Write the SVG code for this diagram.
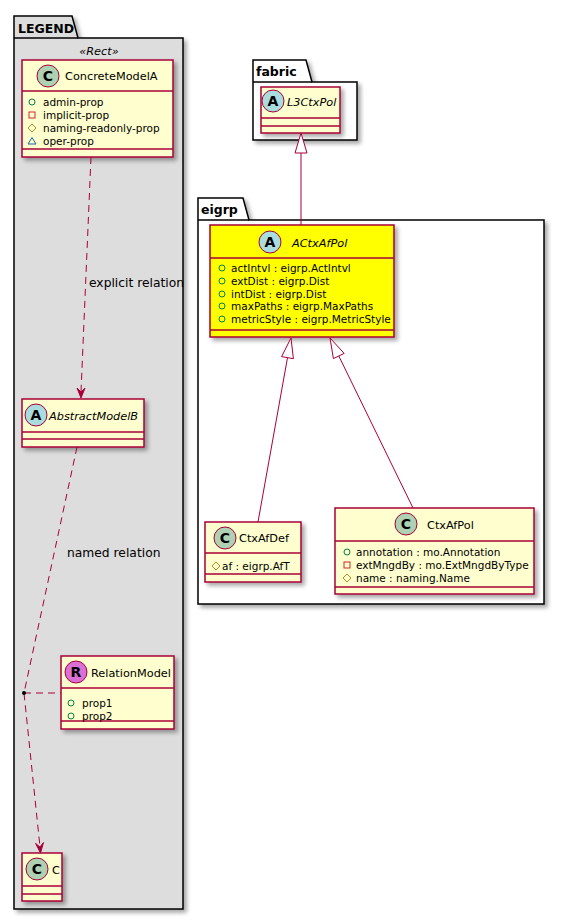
<svg xmlns="http://www.w3.org/2000/svg" width="564" height="920" viewBox="0 0 564 920">
<defs>
<filter id="sh" x="-10%" y="-10%" width="130%" height="130%">
<feDropShadow dx="3" dy="3" stdDeviation="2" flood-color="#000" flood-opacity="0.35"/>
</filter>
</defs>
<style>
.pkg{stroke:#000;stroke-width:1.5;}
.cls{fill:#FEFECE;stroke:#A80036;stroke-width:1.5;}
.div{stroke:#A80036;stroke-width:1.5;}
.spot{stroke:#A80036;stroke-width:1;}
.sl{font-family:"DejaVu Sans",sans-serif;font-weight:bold;font-size:14px;text-anchor:middle;fill:#000;}
.name{font-family:"DejaVu Sans",sans-serif;font-size:11.3px;fill:#000;}
.it{font-style:italic;}
.attr{font-family:"DejaVu Sans",sans-serif;font-size:10.5px;fill:#000;}
.ptitle{font-family:"DejaVu Sans",sans-serif;font-weight:bold;font-size:12.5px;fill:#000;}
.lbl{font-family:"DejaVu Sans",sans-serif;font-size:12.3px;fill:#000;}
.pub{fill:none;stroke:#038048;stroke-width:1;}
.pri{fill:none;stroke:#C82930;stroke-width:1;}
.pro{fill:none;stroke:#B38D22;stroke-width:1;}
.pkv{fill:none;stroke:#1963A0;stroke-width:1;}
.con{fill:none;stroke:#A80036;stroke-width:1;}
.dash{stroke-dasharray:7,5;}
</style>

<g id="pkg-legend">
<path class="pkg" filter="url(#sh)" fill="#DDDDDD" d="M14,16 H72 L78,38 H183 V909 H14 Z"/>
<line class="pkg" x1="14" y1="38" x2="78" y2="38"/>
<text class="ptitle" x="18" y="33">LEGEND</text>
<text class="name it" x="99" y="55" text-anchor="middle" font-size="12">«Rect»</text>
</g>

<g id="pkg-fabric">
<path class="pkg" filter="url(#sh)" fill="#FFFFFF" d="M253,60 H306 L312,82 H357 V140 H253 Z"/>
<line class="pkg" x1="253" y1="82" x2="312" y2="82"/>
<text class="ptitle" x="256" y="76" font-size="14">fabric</text>
</g>

<g id="pkg-eigrp">
<path class="pkg" filter="url(#sh)" fill="#FFFFFF" d="M198,198 H243 L249,220 H544 V604 H198 Z"/>
<line class="pkg" x1="198" y1="220" x2="249" y2="220"/>
<text class="ptitle" x="201" y="214">eigrp</text>
</g>

<g id="ConcreteModelA">
<rect class="cls" filter="url(#sh)" x="22" y="60" width="151" height="97"/>
<line class="div" x1="22" y1="91" x2="173" y2="91"/>
<line class="div" x1="22" y1="149" x2="173" y2="149"/>
<circle class="spot" cx="48" cy="76" r="11" fill="#ADD1B2"/>
<text class="sl" x="48" y="81">C</text>
<text class="name" x="65" y="80">ConcreteModelA</text>
<circle class="pub" cx="32" cy="102" r="3"/>
<text class="attr" x="43" y="106">admin-prop</text>
<rect class="pri" x="29" y="112" width="6" height="6"/>
<text class="attr" x="43" y="119">implicit-prop</text>
<polygon class="pro" points="32,124 36,128 32,132 28,128"/>
<text class="attr" x="43" y="132">naming-readonly-prop</text>
<polygon class="pkv" points="32,137.5 36,144 28,144"/>
<text class="attr" x="43" y="145">oper-prop</text>
</g>

<g id="AbstractModelB">
<rect class="cls" filter="url(#sh)" x="22" y="399" width="122" height="48"/>
<line class="div" x1="22" y1="432" x2="144" y2="432"/>
<line class="div" x1="22" y1="439" x2="144" y2="439"/>
<circle class="spot" cx="36" cy="415" r="11" fill="#A9DCDF"/>
<text class="sl" x="36" y="420">A</text>
<text class="name it" x="49" y="420">AbstractModelB</text>
</g>

<g id="RelationModel">
<rect class="cls" filter="url(#sh)" x="61" y="656" width="113" height="73"/>
<line class="div" x1="61" y1="688" x2="174" y2="688"/>
<line class="div" x1="61" y1="721" x2="174" y2="721"/>
<circle class="spot" cx="76" cy="672" r="11" fill="#DA70D6"/>
<text class="sl" x="76" y="677">R</text>
<text class="name" x="91" y="677">RelationModel</text>
<circle class="pub" cx="71" cy="703" r="3"/>
<text class="attr" x="82" y="707">prop1</text>
<circle class="pub" cx="71" cy="716" r="3"/>
<text class="attr" x="82" y="720">prop2</text>
</g>

<g id="C">
<rect class="cls" filter="url(#sh)" x="22" y="853" width="40" height="48"/>
<line class="div" x1="22" y1="886" x2="62" y2="886"/>
<line class="div" x1="22" y1="894" x2="62" y2="894"/>
<circle class="spot" cx="37" cy="869" r="11" fill="#ADD1B2"/>
<text class="sl" x="37" y="874">C</text>
<text class="name" x="52" y="874">C</text>
</g>

<g id="L3CtxPol">
<rect class="cls" filter="url(#sh)" x="261" y="87" width="79" height="46"/>
<line class="div" x1="261" y1="118" x2="340" y2="118"/>
<line class="div" x1="261" y1="126" x2="340" y2="126"/>
<circle class="spot" cx="273" cy="101" r="11" fill="#A9DCDF"/>
<text class="sl" x="273" y="106">A</text>
<text class="name it" x="287" y="106">L3CtxPol</text>
</g>

<g id="ACtxAfPol">
<rect filter="url(#sh)" fill="#FFFF00" stroke="#A80036" stroke-width="1.5" x="210" y="225" width="184" height="112"/>
<line class="div" x1="210" y1="258" x2="394" y2="258"/>
<line class="div" x1="210" y1="330" x2="394" y2="330"/>
<circle class="spot" cx="270" cy="242" r="11" fill="#A9DCDF"/>
<text class="sl" x="270" y="247">A</text>
<text class="name it" x="292" y="247">ACtxAfPol</text>
<circle class="pub" cx="222" cy="268" r="3"/>
<text class="attr" x="231" y="272">actIntvl : eigrp.ActIntvl</text>
<circle class="pub" cx="222" cy="281" r="3"/>
<text class="attr" x="231" y="285">extDist : eigrp.Dist</text>
<circle class="pub" cx="222" cy="294" r="3"/>
<text class="attr" x="231" y="298">intDist : eigrp.Dist</text>
<circle class="pub" cx="222" cy="306" r="3"/>
<text class="attr" x="231" y="310">maxPaths : eigrp.MaxPaths</text>
<circle class="pub" cx="222" cy="319" r="3"/>
<text class="attr" x="231" y="323">metricStyle : eigrp.MetricStyle</text>
</g>

<g id="CtxAfDef">
<rect class="cls" filter="url(#sh)" x="205" y="522" width="96" height="60"/>
<line class="div" x1="205" y1="553" x2="301" y2="553"/>
<line class="div" x1="205" y1="574" x2="301" y2="574"/>
<circle class="spot" cx="225" cy="538" r="11" fill="#ADD1B2"/>
<text class="sl" x="225" y="543">C</text>
<text class="name" x="239" y="542">CtxAfDef</text>
<polygon class="pro" points="216,562 220,566 216,570 212,566"/>
<text class="attr" x="222" y="570">af : eigrp.AfT</text>
</g>

<g id="CtxAfPol">
<rect class="cls" filter="url(#sh)" x="335" y="508" width="199" height="86"/>
<line class="div" x1="335" y1="541" x2="534" y2="541"/>
<line class="div" x1="335" y1="587" x2="534" y2="587"/>
<circle class="spot" cx="406" cy="524" r="11" fill="#ADD1B2"/>
<text class="sl" x="406" y="529">C</text>
<text class="name" x="427" y="529">CtxAfPol</text>
<circle class="pub" cx="347" cy="552" r="3"/>
<text class="attr" x="356" y="556">annotation : mo.Annotation</text>
<rect class="pri" x="344" y="562" width="6" height="6"/>
<text class="attr" x="356" y="569">extMngdBy : mo.ExtMngdByType</text>
<polygon class="pro" points="347,574 351,578 347,582 343,578"/>
<text class="attr" x="356" y="582">name : naming.Name</text>
</g>

<g id="connectors">
<path class="con dash" d="M91,157 L81,392"/>
<polygon fill="#A80036" stroke="#A80036" stroke-width="1" points="81,398 77,388 81,392 85,388"/>
<text class="lbl" x="89" y="287">explicit relation</text>

<path class="con dash" d="M77,447 L24,693 L40,847"/>
<polygon fill="#A80036" stroke="#A80036" stroke-width="1" points="40.5,853 35.6,843.4 39.9,847 43.5,842.6"/>
<text class="lbl" x="67" y="557">named relation</text>
<path class="con dash" d="M24,693 L61,693"/>
<circle cx="24" cy="693" r="2" fill="#000"/>

<line class="con" x1="301" y1="225" x2="301" y2="153"/>
<polygon fill="#FFFFFF" stroke="#A80036" stroke-width="1" points="301,133 295,153 307,153"/>

<line class="con" x1="258" y1="522" x2="287.5" y2="357.7"/>
<polygon fill="#FFFFFF" stroke="#A80036" stroke-width="1" points="291,338 281.6,356.6 293.4,358.7"/>

<line class="con" x1="413" y1="508" x2="338.8" y2="356"/>
<polygon fill="#FFFFFF" stroke="#A80036" stroke-width="1" points="330,338 333.4,358.6 344.2,353.4"/>
</g>
</svg>
